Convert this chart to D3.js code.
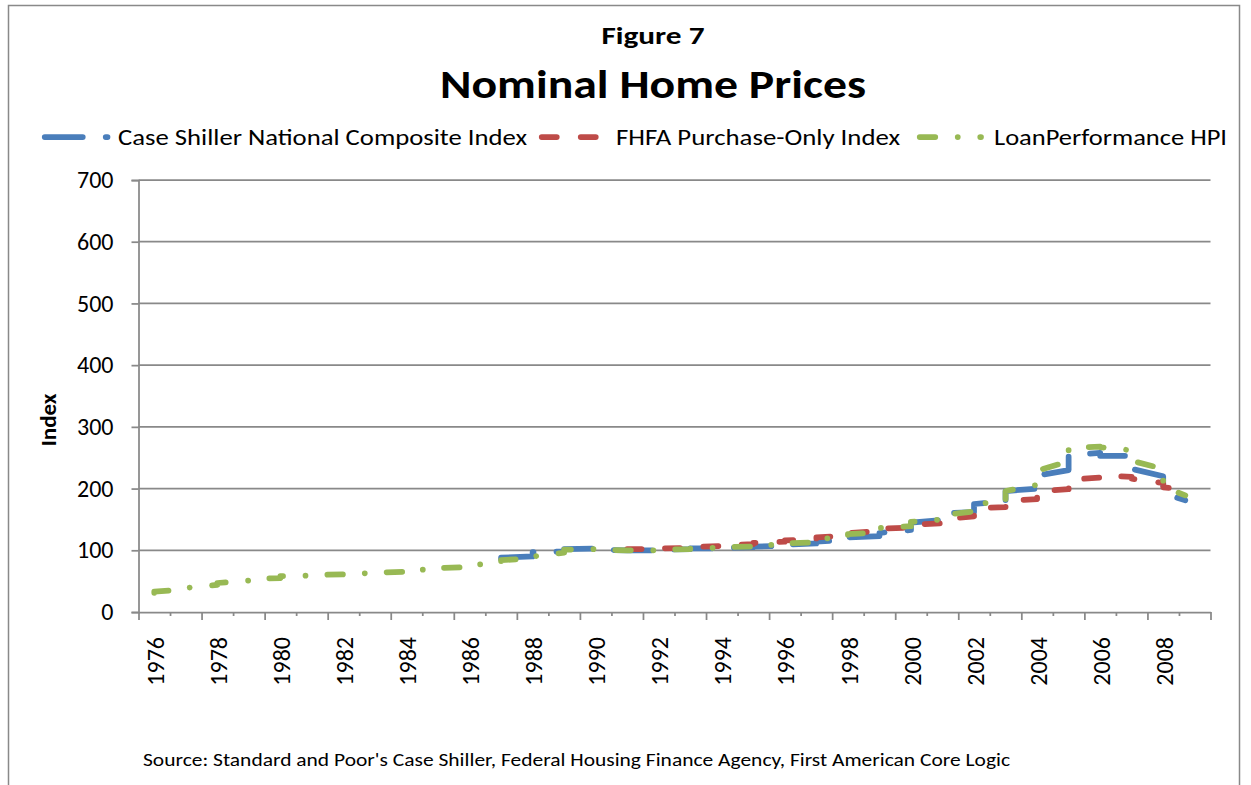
<!DOCTYPE html>
<html>
<head>
<meta charset="utf-8">
<script src="https://cdn.jsdelivr.net/npm/d3@7"></script>
<style>
  body { margin: 0; background: #fff; }
  svg { display: block; }
  text { font-family: Carlito, Calibri, Lato, sans-serif; fill: #000; }
</style>
</head>
<body>
<div id="chart"></div>
<script>
// tick labels
const yearLabels = d3.range(1976, 2010, 2);
const yTicks = [0, 100, 200, 300, 400, 500, 600, 700];

// series: [year, index]; two points per year = first and last reading of that year
const caseShiller = [
  [1987, 86], [1987, 88], [1988, 90], [1988, 97], [1989, 98], [1989, 102],
  [1990, 103], [1990, 101], [1991, 100], [1991, 100], [1992, 100], [1992, 101],
  [1993, 102], [1993, 103], [1994, 103], [1994, 104], [1995, 105], [1995, 106],
  [1996, 107], [1996, 109], [1997, 111], [1997, 114], [1998, 117], [1998, 121],
  [1999, 123], [1999, 128], [2000, 133], [2000, 145], [2001, 149], [2001, 160],
  [2002, 162], [2002, 175], [2003, 179], [2003, 196], [2004, 200], [2004, 221],
  [2005, 230], [2005, 254], [2006, 258], [2006, 253], [2007, 253], [2007, 232],
  [2008, 220], [2008, 192], [2008.7, 181]
];
const fhfa = [
  [1991, 101], [1991, 102], [1992, 102], [1992, 103], [1993, 104], [1993, 105],
  [1994, 107], [1994, 108], [1995, 110], [1995, 112], [1996, 114], [1996, 116],
  [1997, 118], [1997, 121], [1998, 124], [1998, 128], [1999, 131], [1999, 135],
  [2000, 137], [2000, 141], [2001, 144], [2001, 150], [2002, 155], [2002, 168],
  [2003, 170], [2003, 180], [2004, 183], [2004, 196], [2005, 199], [2005, 214],
  [2006, 218], [2006, 221], [2007, 219], [2007, 216], [2008, 209], [2008, 202],
  [2008.7, 198]
];
const loanPerf = [
  [1976, 31], [1976, 33], [1977, 37], [1977, 39], [1978, 44], [1978, 47],
  [1979, 51], [1979, 53], [1980, 55], [1980, 58], [1981, 59], [1981, 60],
  [1982, 61], [1982, 62], [1983, 63], [1983, 64], [1984, 65], [1984, 68],
  [1985, 69], [1985, 71], [1986, 73], [1986, 76], [1987, 80], [1987, 84],
  [1988, 87], [1988, 90], [1989, 96], [1989, 101], [1990, 102], [1990, 101],
  [1991, 100], [1991, 100], [1992, 100], [1992, 101], [1993, 102], [1993, 103],
  [1994, 104], [1994, 105], [1995, 106], [1995, 108], [1996, 109], [1996, 111],
  [1997, 113], [1997, 118], [1998, 122], [1998, 126], [1999, 129], [1999, 136],
  [2000, 139], [2000, 146], [2001, 150], [2001, 157], [2002, 163], [2002, 175],
  [2003, 179], [2003, 196], [2004, 206], [2004, 229], [2005, 244], [2005, 266],
  [2006, 268], [2006, 267], [2007, 262], [2007, 245], [2008, 232], [2008, 203],
  [2008.7, 189]
];
const seriesNames = ["Case Shiller National Composite Index", "FHFA Purchase-Only Index", "LoanPerformance HPI"];

const width = 1251, height = 785;
const margin = { top: 180, right: 40.5, bottom: 173, left: 138.5 };
const grey = "#898989";

const svg = d3.select("#chart").append("svg")
  .attr("width", width)
  .attr("height", height);

// outer chart border
svg.append("rect")
  .attr("x", 8.5).attr("y", 5.5)
  .attr("width", 1231).attr("height", 800)
  .attr("fill", "none").attr("stroke", grey).attr("stroke-width", 1.5);

// x scale: one slot per year, points sit in the middle of the slot
const x = d3.scaleLinear()
  .domain([1976, 2010])
  .range([margin.left, width - margin.right]);

const y = d3.scaleLinear()
  .domain([0, 700])
  .range([height - margin.bottom, margin.top]);

// gridlines
svg.append("g")
  .selectAll("line")
  .data(yTicks.slice(1))
  .join("line")
  .attr("x1", x(1976)).attr("x2", x(2010))
  .attr("y1", d => y(d)).attr("y2", d => y(d))
  .attr("stroke", grey).attr("stroke-width", 1.75);

// y axis
svg.append("g")
  .attr("transform", `translate(${x(1976)},0)`)
  .call(d3.axisLeft(y).tickValues(yTicks).tickSize(7).tickPadding(18))
  .call(g => g.selectAll("line, path").attr("stroke", grey).attr("stroke-width", 1.75))
  .call(g => g.selectAll("text").attr("font-size", 24).attr("font-family", null));

// x axis: major ticks every 2 years, minor every year
svg.append("g")
  .attr("transform", `translate(0,${y(0)})`)
  .call(d3.axisBottom(x).tickValues(d3.range(1977, 2010, 2)).tickSize(4).tickFormat(""))
  .call(g => g.select(".domain").remove())
  .call(g => g.selectAll("line").attr("stroke", grey).attr("stroke-width", 1.75));

svg.append("g")
  .attr("transform", `translate(0,${y(0)})`)
  .call(d3.axisBottom(x).tickValues(d3.range(1976, 2011, 2)).tickSize(8).tickSizeOuter(0).tickFormat(""))
  .call(g => g.selectAll("line, path").attr("stroke", grey).attr("stroke-width", 1.75));

// year labels, rotated, centred in the year slot
svg.append("g")
  .attr("transform", `translate(0,${y(0)})`)
  .call(d3.axisBottom(x).tickValues(yearLabels.map(d => d + 0.5)).tickSize(0).tickFormat(d => Math.floor(d)))
  .call(g => g.select(".domain").remove())
  .call(g => g.selectAll("text")
    .attr("font-size", 24)
    .attr("font-family", null)
    .attr("transform", "rotate(-90)")
    .attr("text-anchor", "end")
    .attr("x", -25)
    .attr("y", 0)
    .attr("dy", "0.38em"));

// lines
const line = d3.line()
  .x(d => x(d[0] + 0.5))
  .y(d => y(d[1]));

const styles = [
  { data: caseShiller, color: "#4A7EBB", dash: "38,23" },
  { data: fhfa, color: "#BE4B48", dash: "15,24" },
  { data: loanPerf, color: "#98B954", dash: "15.5,22.5,0.01,22.5" }
];

styles.forEach(s => {
  svg.append("path")
    .datum(s.data)
    .attr("fill", "none")
    .attr("stroke", s.color)
    .attr("stroke-width", 5.75)
    .attr("stroke-linecap", "round")
    .attr("stroke-linejoin", "round")
    .attr("stroke-dasharray", s.dash)
    .attr("d", line);
});

// titles
svg.append("text")
  .text("Figure 7")
  .attr("x", 653).attr("y", 44)
  .attr("text-anchor", "middle")
  .attr("font-weight", "bold")
  .attr("font-size", 25)
  .attr("textLength", 103).attr("lengthAdjust", "spacingAndGlyphs");

svg.append("text")
  .text("Nominal Home Prices")
  .attr("x", 653).attr("y", 98)
  .attr("text-anchor", "middle")
  .attr("font-weight", "bold")
  .attr("font-size", 41)
  .attr("textLength", 426).attr("lengthAdjust", "spacingAndGlyphs");

// legend
const legend = [
  { x1: 44.75, x2: 107.5, tx: 118, tw: 409 },
  { x1: 541.75, x2: 598.5, tx: 616, tw: 284 },
  { x1: 919.75, x2: 981, tx: 994, tw: 233 }
];
legend.forEach((l, i) => {
  svg.append("line")
    .attr("x1", l.x1).attr("x2", l.x2)
    .attr("y1", 137).attr("y2", 137)
    .attr("stroke", styles[i].color)
    .attr("stroke-width", 5.75)
    .attr("stroke-linecap", "round")
    .attr("stroke-dasharray", styles[i].dash);
  svg.append("text")
    .text(seriesNames[i])
    .attr("x", l.tx).attr("y", 145)
    .attr("font-size", 22)
    .attr("textLength", l.tw).attr("lengthAdjust", "spacingAndGlyphs");
});

// y axis title
svg.append("text")
  .text("Index")
  .attr("transform", "translate(56,420) rotate(-90)")
  .attr("text-anchor", "middle")
  .attr("font-weight", "bold")
  .attr("font-size", 23);

// source note
svg.append("text")
  .text("Source: Standard and Poor's Case Shiller, Federal Housing Finance Agency, First American Core Logic")
  .attr("x", 143).attr("y", 766)
  .attr("font-size", 19)
  .attr("textLength", 867).attr("lengthAdjust", "spacingAndGlyphs");
</script>
</body>
</html>
